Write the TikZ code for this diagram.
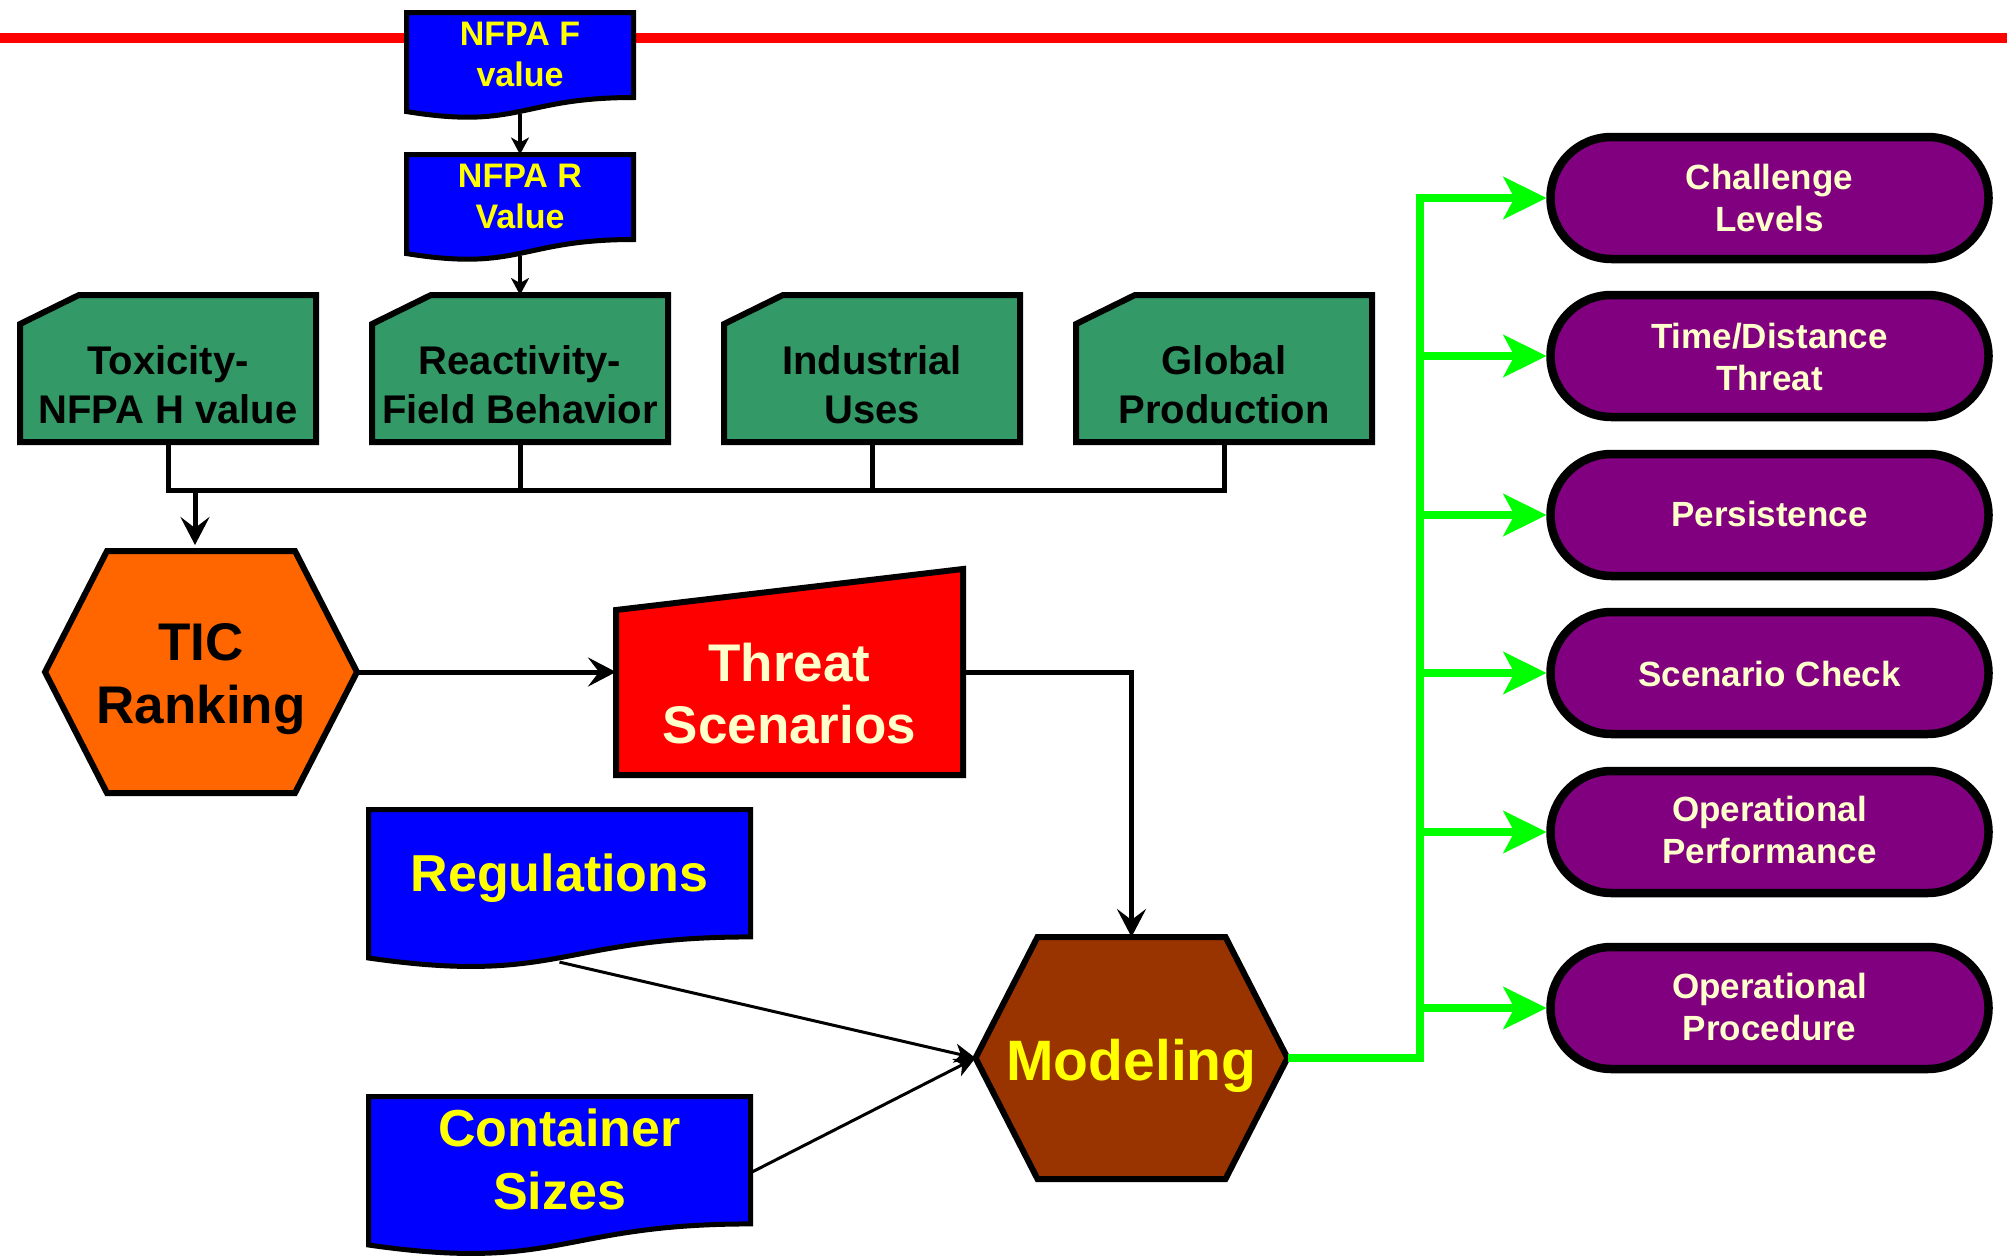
\documentclass[tikz,border=0pt]{standalone}
\usepackage{fontspec}
\setmainfont{Liberation Sans}
\usetikzlibrary{calc,arrows.meta,backgrounds}
\definecolor{nfblue}{HTML}{0000FF}
\definecolor{nfyellow}{HTML}{FFFF00}
\definecolor{cardgreen}{HTML}{339966}
\definecolor{ticorange}{HTML}{FF6600}
\definecolor{thred}{HTML}{FF0000}
\definecolor{paleyellow}{HTML}{FFFFCC}
\definecolor{modbrown}{HTML}{993300}
\definecolor{purp}{HTML}{800080}
\definecolor{brightgreen}{HTML}{00FF00}
\newcommand\tbox[3]{\rule{0pt}{#1pt}#3\rule[-#2pt]{0pt}{0pt}}
\newcommand\drawdoc[2]{\draw[#2] (#1.north west) -- (#1.north east) -- ($(#1.north east)!0.835!(#1.south east)$) .. controls ($(#1.north)!0.835!(#1.south)$) and ($(#1.north)!1.1536!(#1.south)$) .. ($(#1.north west)!0.973!(#1.south west)$) -- cycle;}
\newcommand\drawcard[2]{\draw[#2] (#1.south west) -- ($(#1.north west)+(0,29)$) -- ($(#1.north west)+(59,0)$) -- (#1.north east) -- (#1.south east) -- cycle;}
\newcommand\drawhex[2]{\draw[#2] (#1.west) -- ($(#1.north west)+(62,0)$) -- ($(#1.north east)+(-62,0)$) -- (#1.east) -- ($(#1.south east)+(-62,0)$) -- ($(#1.south west)+(62,0)$) -- cycle;}
\newcommand\drawmanual[2]{\draw[#2] (#1.south west) -- ($(#1.north west)+(0,41)$) -- (#1.north east) -- (#1.south east) -- cycle;}
\tikzset{
  basenode/.style={inner sep=0pt, outer sep=0pt, align=center},
  nfpanode/.style={basenode, minimum width=227pt, minimum height=101.8pt, text=nfyellow, font=\bfseries\fontsize{34}{41}\selectfont},
  cardnode/.style={basenode, minimum width=296pt, minimum height=147pt, text=black, font=\bfseries\fontsize{40}{49}\selectfont},
  hexnode/.style={basenode, minimum width=312pt, minimum height=242pt, font=\bfseries\fontsize{53}{63}\selectfont},
  threatnode/.style={basenode, minimum width=347pt, minimum height=206pt, text=paleyellow, font=\bfseries\fontsize{53}{62}\selectfont},
  bigdoc/.style={basenode, minimum width=382pt, minimum height=152.6pt, text=nfyellow, font=\bfseries\fontsize{52}{63}\selectfont},
  pill/.style={basenode, draw=black, line width=8.5pt, fill=purp, rounded corners=61pt, minimum width=438pt, minimum height=122pt, text=paleyellow, font=\bfseries\fontsize{35}{42}\selectfont},
  docshape/.style={fill=nfblue, draw=black, line width=5pt, line join=miter},
  cardshape/.style={fill=cardgreen, draw=black, line width=6pt, line join=miter},
  hexorange/.style={fill=ticorange, draw=black, line width=6pt, line join=miter},
  hexbrown/.style={fill=modbrown, draw=black, line width=6pt, line join=miter},
  threatshape/.style={fill=thred, draw=black, line width=6pt, line join=miter},
  bline/.style={draw=black, line width=5pt, line join=miter},
  barr/.style={bline, -{Stealth[length=28pt,width=29pt,inset=11pt]}},
  nfarr/.style={draw=black, line width=4pt, -{Stealth[length=17pt,width=18pt,inset=5pt]}},
  tarr/.style={draw=black, line width=3pt, -{Stealth[length=21pt,width=19pt,inset=6pt]}},
  garr/.style={draw=brightgreen, line width=8.5pt, line join=miter, shorten >=4pt, -{Stealth[length=43pt,width=42pt,inset=11pt]}}
}
\begin{document}
\begin{tikzpicture}[x=1pt,y=-1pt]
\useasboundingbox (0,0) rectangle (2007,1258);

% nodes
\node[nfpanode] (nfpaF) at (520,63.4) {\tbox{30}{24}{NFPA F\\value}};
\node[nfpanode] (nfpaR) at (520,205.4) {\tbox{30}{24}{NFPA R\\Value}};

\node[cardnode] (tox) at (168,368.5) {\tbox{70}{10}{Toxicity-\\NFPA H value}};
\node[cardnode] (react) at (520,368.5) {\tbox{70}{10}{Reactivity-\\Field Behavior}};
\node[cardnode] (ind) at (872,368.5) {\tbox{70}{10}{Industrial\\Uses}};
\node[cardnode] (glob) at (1224,368.5) {\tbox{70}{10}{Global\\Production}};

\node[hexnode, text=black] (tic) at (201,672) {\tbox{54.3}{15}{TIC\\Ranking}};
\node[threatnode] (threat) at (789.5,672) {\tbox{96.7}{15}{Threat\\Scenarios}};
\node[hexnode, text=nfyellow, font=\bfseries\fontsize{57}{63}\selectfont] (model) at (1131.5,1058) {\tbox{59}{15}{Modeling}};
\node[bigdoc] (regs) at (559.5,885.8) {\tbox{45}{33.2}{Regulations}};
\node[bigdoc] (cont) at (559.5,1172.8) {\tbox{45}{33.9}{Container\\Sizes}};

\node[pill] (chal) at (1769.5,198) {\tbox{35}{10}{Challenge\\Levels}};
\node[pill] (time) at (1769.5,356) {\tbox{35}{8.7}{Time/Distance\\Threat}};
\node[pill] (pers) at (1769.5,515) {\tbox{35}{13}{Persistence}};
\node[pill] (scen) at (1769.5,673) {\tbox{35}{9}{Scenario Check}};
\node[pill] (opperf) at (1769.5,832) {\tbox{35}{13.3}{Operational\\Performance}};
\node[pill] (opproc) at (1769.5,1008) {\tbox{35}{12.7}{Operational\\Procedure}};

% shapes behind the texts
\begin{scope}[on background layer]
  \draw[line width=10pt, thred] (0,37.5) -- (2007,37.5);
  \drawdoc{nfpaF}{docshape}
  \drawdoc{nfpaR}{docshape}
  \drawcard{tox}{cardshape}
  \drawcard{react}{cardshape}
  \drawcard{ind}{cardshape}
  \drawcard{glob}{cardshape}
  \drawhex{tic}{hexorange}
  \drawmanual{threat}{threatshape}
  \drawhex{model}{hexbrown}
  \drawdoc{regs}{docshape}
  \drawdoc{cont}{docshape}
\end{scope}

% black connectors
\draw[nfarr] (nfpaF.south) -- (nfpaR.north);
\draw[nfarr] (nfpaR.south) -- (react.north);
\coordinate (bus) at (195,490);
\draw[bline] (tox.south) |- (glob.south |- bus) -- (glob.south);
\draw[bline] (react.south) -- (react.south |- bus);
\draw[bline] (ind.south) -- (ind.south |- bus);
\draw[barr, shorten >=6pt] (bus) -- (bus |- tic.north);
\draw[barr] (tic.east) -- (threat.west);
\draw[barr] (threat.east) -| (model.north);
\draw[tarr] (regs.south) -- (model.west);
\draw[tarr] (cont.east) -- (model.west);

% green connectors
\coordinate (gb) at (1420,1058);
\draw[garr] (model.east) -- (gb) |- (chal.west);
\draw[garr] (gb |- time.west) -- (time.west);
\draw[garr] (gb |- pers.west) -- (pers.west);
\draw[garr] (gb |- scen.west) -- (scen.west);
\draw[garr] (gb |- opperf.west) -- (opperf.west);
\draw[garr] (gb |- opproc.west) -- (opproc.west);
\end{tikzpicture}
\end{document}
